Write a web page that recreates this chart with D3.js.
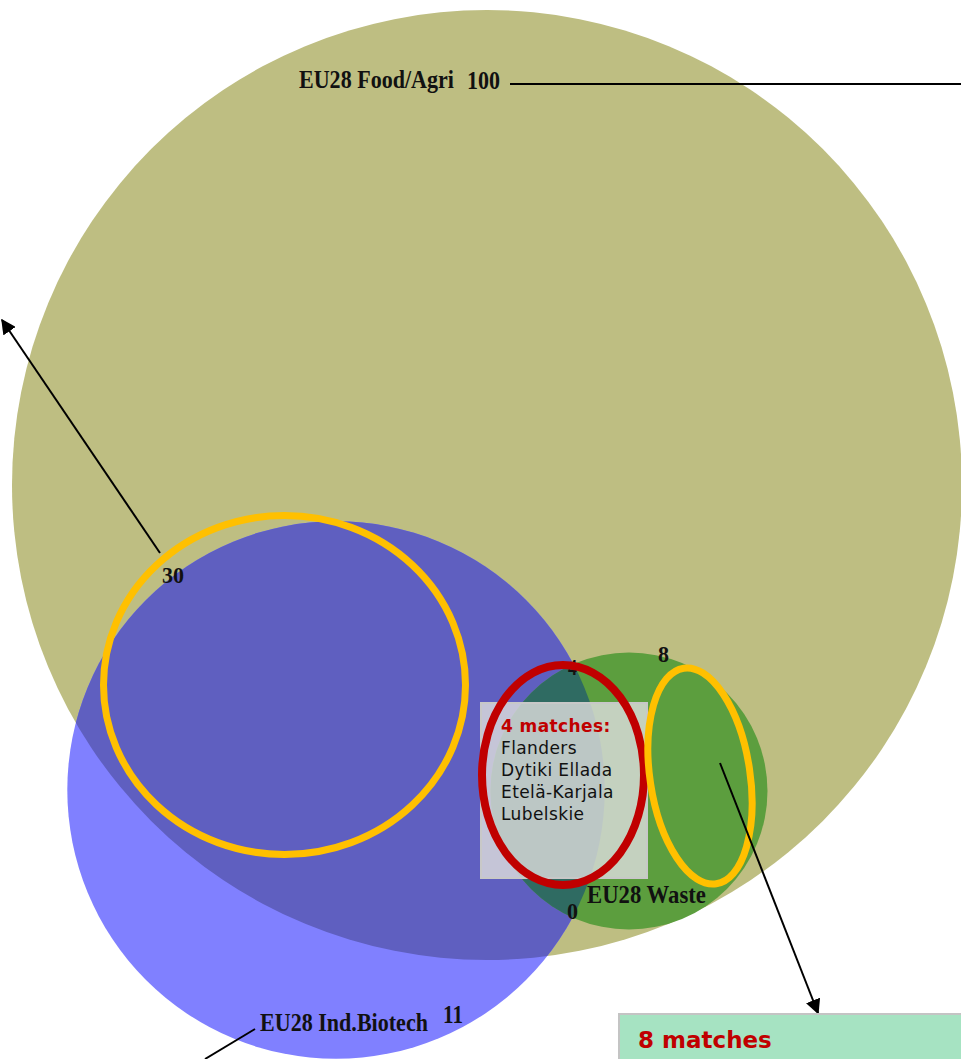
<!DOCTYPE html>
<html>
<head>
<meta charset="utf-8">
<script src="https://cdn.jsdelivr.net/npm/d3@7"></script>
<style>
  body { margin: 0; background: #fff; }
  svg { display: block; }
</style>
</head>
<body>
<div id="chart"></div>
<script>
// set data
var setNames = ["EU28 Food/Agri", "EU28 Ind.Biotech", "EU28 Waste"];
var setAreas = [100, 32, 8.5];          // relative circle areas
var setCounts = [100, 11, 8];           // numbers shown next to the set names
var overlapCounts = [30, 4, 0];         // Food∩Biotech, Food∩Waste∩Biotech edge, Biotech∩Waste
var wasteOnlyCount = 8;
var matchCounts = [4, 8];
var matchRegions = ["Flanders", "Dytiki Ellada", "Etelä-Karjala", "Lubelskie"];

var width = 961, height = 1059;

var colors = {
  food: "#bebe82",
  bio: "#8080ff",
  bioFood: "#5f5fc0",
  waste: "#5c9e3e",
  wasteBio: "#2f6b62",
  yellow: "#ffc000",
  red: "#c00000"
};

var r = d3.scaleSqrt().domain([0, 100]).range([0, 475]);

// circle centres of the venn layout
var centres = [[487, 485], [336, 790], [629, 791]];

var circles = setNames.map(function(n, i) {
  return {name: n, area: setAreas[i], count: setCounts[i], cx: centres[i][0], cy: centres[i][1]};
});

var svg = d3.select("#chart").append("svg")
  .attr("width", width)
  .attr("height", height);

var defs = svg.append("defs");
defs.append("marker")
  .attr("id", "arrow")
  .attr("viewBox", "0 0 10 10")
  .attr("refX", 9).attr("refY", 5)
  .attr("markerWidth", 15).attr("markerHeight", 15)
  .attr("markerUnits", "userSpaceOnUse")
  .attr("orient", "auto")
  .append("path").attr("d", "M0,0 L10,5 L0,10 z").attr("fill", "#000");

["clipFood", "clipBio"].forEach(function(id, i) {
  defs.append("clipPath").attr("id", id)
    .append("circle")
    .attr("cx", circles[i].cx).attr("cy", circles[i].cy).attr("r", r(circles[i].area));
});

var g = svg.append("g");

function circle(d, fill, clip) {
  var c = g.append("circle")
    .attr("cx", d.cx).attr("cy", d.cy).attr("r", r(d.area))
    .attr("fill", fill);
  if (clip) c.attr("clip-path", "url(#" + clip + ")");
  return c;
}

circle(circles[0], colors.food);
circle(circles[1], colors.bio);
circle(circles[1], colors.bioFood, "clipFood");
circle(circles[2], colors.waste);
circle(circles[2], colors.wasteBio, "clipBio");

// connector lines
function line(x1, y1, x2, y2, arrow) {
  var l = g.append("line")
    .attr("x1", x1).attr("y1", y1).attr("x2", x2).attr("y2", y2)
    .attr("stroke", "#000").attr("stroke-width", 2);
  if (arrow) l.attr("marker-end", "url(#arrow)");
}
line(510, 84, 961, 84, false);
line(160, 553, 2, 320, true);
line(255, 1029, 205, 1059, false);

// labels (serif, squeezed horizontally to the wanted width)
function label(x, y, txt, len, size) {
  var t = g.append("text")
    .attr("font-family", "'Liberation Serif', 'Times New Roman', serif")
    .attr("font-weight", "bold")
    .attr("font-size", size || 26)
    .attr("fill", "#111")
    .text(txt);
  var w = t.node().getComputedTextLength();
  t.attr("transform", "translate(" + x + "," + y + ") scale(" + (len / w) + ",1)");
}
label(299, 88, circles[0].name, 155);
label(467, 89, circles[0].count, 33);
label(260, 1031, circles[1].name, 168);
label(443, 1023, circles[1].count, 20);
label(587, 903, circles[2].name, 119);
label(658, 662, wasteOnlyCount, 11, 24);
label(162, 583, overlapCounts[0], 22, 24);
label(568, 675, overlapCounts[1], 9, 24);
label(567, 919, overlapCounts[2], 11, 24);

// grey box with the 4 matches
g.append("rect")
  .attr("x", 481).attr("y", 703).attr("width", 166).attr("height", 175)
  .attr("fill", "#dcdcdc").attr("fill-opacity", 0.82)
  .attr("stroke", "#c8c8c8").attr("stroke-width", 2);

// highlight ellipses
g.append("ellipse")
  .attr("cx", 284.5).attr("cy", 685).attr("rx", 181).attr("ry", 169.5)
  .attr("fill", "none").attr("stroke", colors.yellow).attr("stroke-width", 7);
g.append("ellipse")
  .attr("cx", 563).attr("cy", 775).attr("rx", 81).attr("ry", 110)
  .attr("fill", "none").attr("stroke", colors.red).attr("stroke-width", 8);
g.append("ellipse")
  .attr("transform", "translate(700,776) rotate(-8.6)")
  .attr("rx", 50).attr("ry", 109)
  .attr("fill", "none").attr("stroke", colors.yellow).attr("stroke-width", 7);

var box = g.append("text")
  .attr("font-family", "'DejaVu Sans', Verdana, sans-serif")
  .attr("font-size", 17)
  .attr("letter-spacing", 0.4);
box.append("tspan")
  .attr("x", 501).attr("y", 732)
  .attr("fill", colors.red).attr("font-weight", "bold")
  .text(matchCounts[0] + " matches:");
matchRegions.forEach(function(n, i) {
  box.append("tspan")
    .attr("x", 501).attr("y", 754 + i * 22)
    .attr("fill", "#111")
    .text(n);
});

// arrow to green box
line(720, 763, 818, 1013, true);

g.append("rect")
  .attr("x", 619).attr("y", 1014).attr("width", 360).attr("height", 80)
  .attr("fill", "#a6e3c2")
  .attr("stroke", "#c4c4c4").attr("stroke-width", 2);
g.append("text")
  .attr("x", 638).attr("y", 1048)
  .attr("font-family", "'DejaVu Sans', Verdana, sans-serif")
  .attr("font-size", 23).attr("font-weight", "bold")
  .attr("fill", colors.red)
  .text(matchCounts[1] + " matches");
</script>
</body>
</html>
